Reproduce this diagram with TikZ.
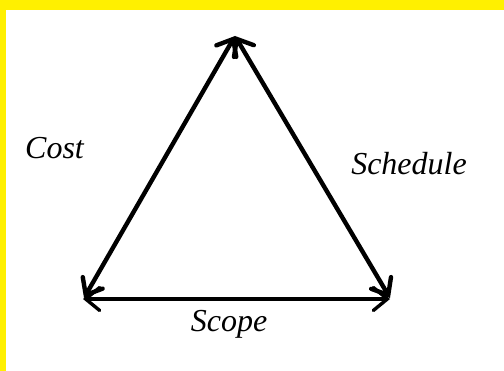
\documentclass[tikz,border=0pt]{standalone}
\usepackage{fontspec}
\setmainfont{Liberation Serif}
\usetikzlibrary{arrows.meta}
\definecolor{bandyellow}{RGB}{255,240,0}
\tikzset{
  side/.style={line width=4.4pt,line cap=round,{Straight Barb[length=14pt,width=23pt,line cap=round]}-{Straight Barb[length=14pt,width=23pt,line cap=round]}},
  base/.style={line width=3.4pt,{Straight Barb[length=14pt,width=23pt,line cap=round]}-{Straight Barb[length=14pt,width=23pt,line cap=round]}},
  lbl/.style={font=\fontsize{32}{35}\selectfont\itshape,anchor=base,inner sep=0pt}
}
\begin{document}
\begin{tikzpicture}[x=1pt,y=-1pt]
\useasboundingbox (0,0) rectangle (504,371);
\fill[white] (0,0) rectangle (504,371);
\fill[bandyellow] (0,0) rectangle (504,10);
\fill[bandyellow] (0,0) rectangle (6,371);
\coordinate (apex) at (235,36);
\coordinate (bl) at (84,298);
\coordinate (br) at (390,298);
\coordinate (hl) at (83,299);
\coordinate (hr) at (390,299);
\draw[side] (apex) -- (bl);
\draw[side] (apex) -- (br);
\draw[base] (hl) -- (hr);
\node[lbl] (cost) at (54.5,159) {Cost};
\node[lbl] (sched) at (409,175) {Schedule};
\node[lbl] (scope) at (229,332) {Scope};
\end{tikzpicture}
\end{document}
